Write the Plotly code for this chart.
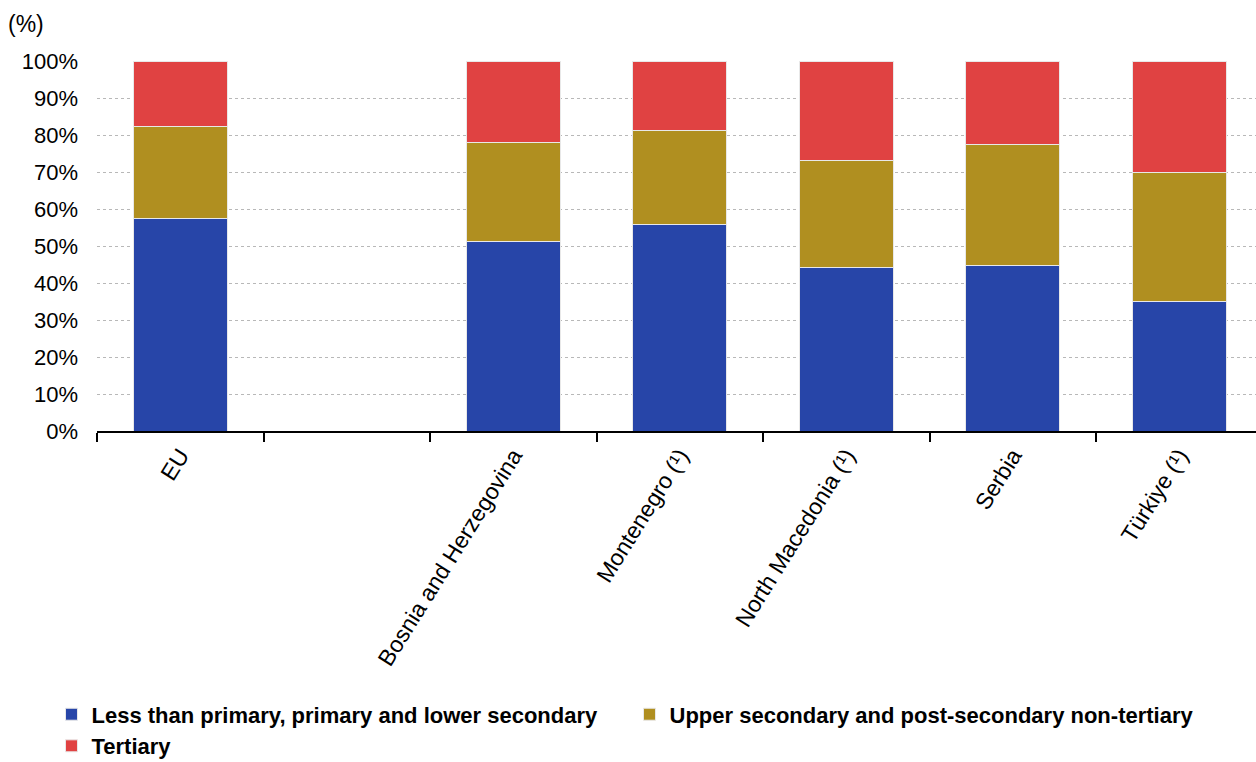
import plotly.graph_objects as go

# Share of employed persons by educational attainment level (%)
countries = ["EU", " ", "Bosnia and Herzegovina", "Montenegro (¹)",
             "North Macedonia (¹)", "Serbia", "Türkiye (¹)"]
low_edu = [57.3, None, 51.1, 55.7, 44.3, 44.6, 35.0]
mid_edu = [24.9, None, 27.0, 25.4, 28.9, 32.7, 35.0]
high_edu = [17.8, None, 21.9, 18.9, 26.8, 22.7, 30.0]

series_names = [
    "Less than primary, primary and lower secondary",
    "Upper secondary and post-secondary non-tertiary",
    "Tertiary",
]
series_colors = ["#2745A8", "#B08F20", "#E04242"]

y_ticks = [0, 10, 20, 30, 40, 50, 60, 70, 80, 90, 100]
y_tick_labels = [f"{v}%" for v in y_ticks]

FONT = "Liberation Sans, Arial, sans-serif"

fig = go.Figure()
for name, vals, col in zip(series_names, [low_edu, mid_edu, high_edu], series_colors):
    fig.add_trace(go.Bar(
        x=countries, y=vals, name=name,
        marker=dict(color=col, line=dict(color="#E8E8E8", width=1)),
        width=0.565,
    ))

fig.update_layout(
    barmode="stack",
    width=1256, height=762,
    margin=dict(l=97, r=0, t=61, b=331),
    paper_bgcolor="white", plot_bgcolor="white",
    font=dict(family=FONT, size=21, color="#000000"),
    showlegend=True,
    legend=dict(
        orientation="h",
        x=0.041, xref="container", xanchor="left",
        y=0.090, yref="container", yanchor="top",
        font=dict(family=FONT, size=22, color="#000000", weight="bold"),
        entrywidth=533, entrywidthmode="pixels",
        traceorder="normal",
        itemclick=False,
        tracegroupgap=0,
    ),
    annotations=[dict(
        text="(%)", xref="paper", yref="paper", x=0, y=1, xanchor="left",
        yanchor="bottom", showarrow=False, font=dict(size=23),
        xshift=-91, yshift=22,
    )],
)

fig.update_xaxes(
    type="category",
    categoryorder="array", categoryarray=countries,
    range=[-0.5, 6.46],
    showgrid=False,
    showline=True, linecolor="#000000", linewidth=2,
    ticks="outside", tickson="boundaries", ticklen=9, tickwidth=2, tickcolor="#000000",
    tickangle=-58,
    tickfont=dict(family=FONT, size=23),
)

fig.update_yaxes(
    range=[0, 100],
    tickvals=y_ticks, ticktext=y_tick_labels,
    showgrid=True, gridcolor="#B8B8B8", gridwidth=1, griddash="dot",
    zeroline=False, showline=False,
    ticks="", ticklabelstandoff=18,
    tickfont=dict(family=FONT, size=22),
)

fig.write_html("out.html")
